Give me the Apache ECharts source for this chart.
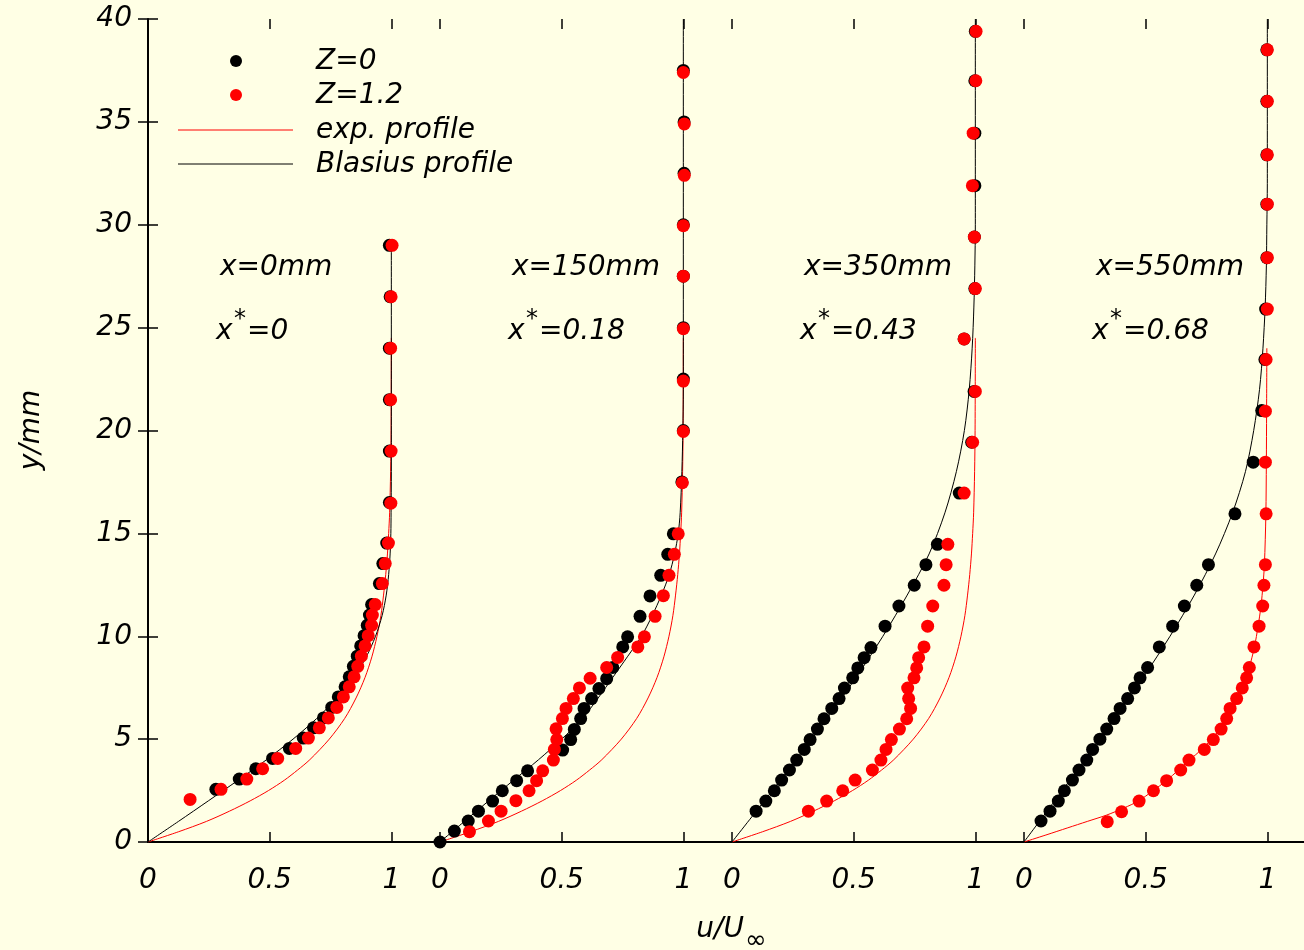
<!DOCTYPE html>
<html>
<head>
<meta charset="utf-8">
<script src="https://cdn.jsdelivr.net/npm/echarts@6/dist/echarts.min.js"></script>
<style>
  html, body { margin: 0; padding: 0; background: #ffffe5; }
  #chart { width: 1304px; height: 950px; }
</style>
</head>
<body>
<div id="chart"></div>
<script>
// ---- measurement stations -------------------------------------------------
const stations = ['x=0mm', 'x=150mm', 'x=350mm', 'x=550mm'];
const xStar = ['0', '0.18', '0.43', '0.68'];
const xTickValues = [0, 0.5, 1];

// ---- measured velocity profiles: [u/U∞, y (mm)] ---------------------------
// Z = 0
const z0Station1 = [[0.279,2.56],[0.375,3.06],[0.443,3.56],[0.512,4.06],[0.581,4.55],[0.638,5.05],[0.680,5.55],[0.721,6.03],[0.755,6.54],[0.782,7.05],[0.810,7.54],[0.827,8.03],[0.844,8.54],[0.860,9.03],[0.874,9.53],[0.888,10.03],[0.901,10.53],[0.910,11.03],[0.919,11.54],[0.951,12.56],[0.965,13.53],[0.981,14.53],[0.992,16.5],[0.992,19.0],[0.992,21.5],[0.992,24.0],[0.995,26.5],[0.992,29.0]];
const z0Station2 = [[0,0],[0.059,0.53],[0.116,1.02],[0.158,1.50],[0.216,1.99],[0.256,2.49],[0.315,2.98],[0.360,3.46],[0.504,4.47],[0.537,4.98],[0.552,5.47],[0.578,6.00],[0.592,6.49],[0.623,6.97],[0.653,7.46],[0.685,7.94],[0.710,8.48],[0.751,9.48],[0.771,9.97],[0.822,10.97],[0.863,11.96],[0.907,12.96],[0.936,13.98],[0.959,14.98],[0.994,17.5],[1.0,20],[1.0,22.5],[1.0,25],[1.0,27.5],[1.0,30],[1.003,32.5],[1.003,35],[1.0,37.5]];
const z0Station3 = [[0.099,1.50],[0.139,1.99],[0.174,2.49],[0.204,3.01],[0.236,3.50],[0.266,3.98],[0.297,4.50],[0.321,4.98],[0.351,5.49],[0.378,5.99],[0.410,6.49],[0.440,6.97],[0.462,7.48],[0.496,7.98],[0.517,8.46],[0.543,8.96],[0.571,9.45],[0.629,10.49],[0.686,11.47],[0.749,12.48],[0.797,13.48],[0.844,14.47],[0.934,16.96],[0.985,19.43],[0.995,21.9],[0.954,24.45],[0.998,26.9],[0.996,29.4],[0.998,31.9],[0.998,34.45],[0.998,37],[1.0,39.4]];
const z0Station4 = [[0.070,1.02],[0.107,1.50],[0.141,1.99],[0.166,2.49],[0.199,3.01],[0.226,3.50],[0.258,3.98],[0.282,4.50],[0.312,5.00],[0.340,5.49],[0.370,6.00],[0.395,6.49],[0.426,6.97],[0.454,7.49],[0.477,7.98],[0.508,8.48],[0.556,9.48],[0.611,10.49],[0.659,11.47],[0.710,12.48],[0.758,13.48],[0.867,15.95],[0.942,18.46],[0.977,20.97],[0.990,23.45],[0.993,25.9],[0.998,28.4],[0.998,31],[0.998,33.4],[0.998,36],[0.998,38.5]];
// Z = 1.2
const z12Station1 = [[0.173,2.07],[0.300,2.56],[0.406,3.06],[0.471,3.56],[0.533,4.06],[0.607,4.55],[0.659,5.05],[0.704,5.55],[0.741,6.03],[0.776,6.54],[0.803,7.05],[0.827,7.54],[0.847,8.03],[0.862,8.54],[0.877,9.03],[0.892,9.53],[0.905,10.03],[0.919,10.53],[0.922,11.03],[0.934,11.54],[0.963,12.56],[0.975,13.53],[0.988,14.53],[0.998,16.47],[0.999,19.0],[0.997,21.5],[0.997,24.0],[0.999,26.5],[1.003,29.0]];
const z12Station2 = [[0.121,0.50],[0.199,1.02],[0.251,1.50],[0.312,2.01],[0.366,2.49],[0.397,2.98],[0.422,3.46],[0.466,3.98],[0.470,4.50],[0.480,4.98],[0.477,5.50],[0.503,6.00],[0.518,6.49],[0.548,6.97],[0.573,7.49],[0.617,7.96],[0.685,8.48],[0.730,8.97],[0.813,9.48],[0.840,9.97],[0.884,10.97],[0.918,11.97],[0.941,12.96],[0.963,13.98],[0.979,14.98],[0.996,17.46],[1.0,19.95],[1.0,22.4],[1.0,24.95],[1.0,27.5],[1.0,29.95],[1.004,32.4],[1.004,34.9],[1.0,37.4]];
const z12Station3 = [[0.314,1.50],[0.389,1.99],[0.455,2.49],[0.506,3.01],[0.577,3.50],[0.612,3.98],[0.633,4.50],[0.655,4.98],[0.688,5.49],[0.718,5.99],[0.734,6.49],[0.726,6.97],[0.722,7.48],[0.748,7.98],[0.759,8.46],[0.767,8.96],[0.789,9.48],[0.804,10.49],[0.825,11.47],[0.871,12.48],[0.880,13.48],[0.887,14.47],[0.954,16.96],[0.989,19.43],[1.0,21.9],[0.954,24.45],[1.0,26.9],[0.996,29.4],[0.988,31.9],[0.991,34.45],[1.002,37],[1.003,39.4]];
const z12Station4 = [[0.342,0.99],[0.401,1.47],[0.473,1.99],[0.532,2.49],[0.586,2.98],[0.644,3.50],[0.678,3.98],[0.741,4.50],[0.778,4.98],[0.810,5.49],[0.833,6.00],[0.847,6.49],[0.874,6.97],[0.897,7.49],[0.915,7.98],[0.926,8.48],[0.945,9.48],[0.966,10.49],[0.981,11.47],[0.986,12.48],[0.992,13.48],[0.995,15.95],[0.992,18.46],[0.992,20.94],[0.995,23.45],[1.0,25.9],[1.0,28.4],[1.0,31],[1.0,33.4],[1.0,36],[1.0,38.5]];

// ---- reference profiles: [u/U∞, y (mm)] -----------------------------------
const expProfile = [[0,0],[0.126,0.5],[0.24,1.0],[0.335,1.5],[0.42,2.0],[0.495,2.5],[0.56,3.0],[0.615,3.5],[0.665,4.0],[0.745,5.0],[0.808,6.0],[0.855,7.0],[0.892,8.0],[0.92,9.0],[0.941,10.0],[0.957,11.0],[0.968,12.0],[0.977,13.0],[0.984,14.0],[0.989,15.0],[0.993,16.0],[0.997,18.0],[0.999,20.0],[1.0,24.5]];
const expProfileStation4 = [[0,0],[0.09,0.34],[0.18,0.69],[0.26,1.0],[0.34,1.31],[0.41,1.65],[0.47,1.99],[0.53,2.49],[0.585,2.98],[0.635,3.5],[0.68,3.98],[0.73,4.5],[0.77,4.98],[0.805,5.49],[0.835,6.0],[0.86,6.49],[0.88,6.97],[0.898,7.49],[0.913,7.98],[0.926,8.48],[0.947,9.48],[0.962,10.49],[0.974,11.47],[0.982,12.48],[0.988,13.48],[0.994,15.95],[0.996,18.46],[0.997,20.94],[0.998,24.0]];
const blasius1 = [[0,0],[0.125,1],[0.248,2],[0.37,3],[0.487,4],[0.596,5],[0.693,6],[0.777,7],[0.846,8],[0.897,9],[0.935,10],[0.962,11],[0.979,12],[0.989,13],[0.995,14],[0.998,15],[0.999,16],[1.0,18],[1.0,29]];
const blasius2 = [[0,0],[0.1,1],[0.2,2],[0.302,3],[0.405,4],[0.5,5],[0.585,6],[0.65,7],[0.71,8],[0.77,9],[0.828,10],[0.872,11],[0.91,12],[0.942,13],[0.964,14],[0.979,15],[0.987,16],[0.994,18],[0.998,20],[1.0,22],[1.0,40]];
const blasius3 = [[0,0],[0.133,2],[0.264,4],[0.39,6],[0.51,8],[0.62,10],[0.72,12],[0.81,14],[0.875,16],[0.922,18],[0.955,20],[0.975,22],[0.987,24],[0.994,26],[0.998,28],[1.0,30],[1.0,40]];
const blasius4 = [[0,0],[0.126,2],[0.25,4],[0.372,6],[0.49,8],[0.60,10],[0.70,12],[0.787,14],[0.857,16],[0.91,18],[0.944,20],[0.968,22],[0.982,24],[0.991,26],[0.996,28],[0.998,30],[1.0,32],[1.0,40]];

const z0Sets = [z0Station1, z0Station2, z0Station3, z0Station4];
const z12Sets = [z12Station1, z12Station2, z12Station3, z12Station4];
const expSets = [expProfile, expProfile, expProfile, expProfileStation4];
const blasiusSets = [blasius1, blasius2, blasius3, blasius4];

// ---- layout -----------------------------------------------------------------
const FONT = 'DejaVu Sans';
const CANVAS_W = 1304;
const PLOT = { left: 148, top: 19, height: 823 };
const PANEL_W = 292;            // one panel spans u/U∞ = 0 … 1.2
const PANEL_SPAN = 1.2;
const TXT = { fontFamily: FONT, fontStyle: 'italic', color: '#000' };

const grids = [{ left: PLOT.left, top: PLOT.top, width: CANVAS_W - PLOT.left, height: PLOT.height }];
const xAxes = [
  { gridIndex: 0, type: 'value', min: 0, max: 1, position: 'bottom',
    axisLine: { show: true, lineStyle: { color: '#000', width: 2 } },
    axisTick: { show: false }, axisLabel: { show: false }, splitLine: { show: false } },
  { gridIndex: 0, type: 'value', min: 0, max: 1, position: 'top',
    axisLine: { show: true, lineStyle: { color: '#000', width: 2 } },
    axisTick: { show: false }, axisLabel: { show: false }, splitLine: { show: false } }
];
const yAxes = [
  { gridIndex: 0, type: 'value', min: 0, max: 40, interval: 5, position: 'left',
    axisLine: { show: true, lineStyle: { color: '#000', width: 2 } },
    axisTick: { show: true, inside: true, length: 10, lineStyle: { color: '#000', width: 1.5 } },
    axisLabel: { show: true, margin: 16, fontSize: 28, ...TXT },
    splitLine: { show: false } },
  // right frame edge lies just past the canvas; only its ticks show
  { gridIndex: 0, type: 'value', min: 0, max: 40, interval: 5, position: 'right', offset: 4,
    axisLine: { show: false },
    axisTick: { show: true, inside: true, length: 10, lineStyle: { color: '#000', width: 1.5 } },
    axisLabel: { show: false }, splitLine: { show: false } }
];
const series = [];

for (let k = 0; k < 4; k++) {
  const g = k + 1;
  const left = PLOT.left + PANEL_W * k;
  const width = Math.min(PANEL_W, CANVAS_W - left);
  grids.push({ left: left, top: PLOT.top, width: width, height: PLOT.height });
  const xMax = PANEL_SPAN * width / PANEL_W;
  const tick = { show: true, inside: true, length: 10, customValues: xTickValues,
                 lineStyle: { color: '#000', width: 1.5 } };
  xAxes.push({ gridIndex: g, type: 'value', min: 0, max: xMax, position: 'bottom',
    axisLine: { show: false }, splitLine: { show: false }, axisTick: tick,
    axisLabel: { show: true, customValues: xTickValues, margin: 25, fontSize: 28, ...TXT } });
  xAxes.push({ gridIndex: g, type: 'value', min: 0, max: xMax, position: 'top',
    axisLine: { show: false }, splitLine: { show: false }, axisTick: tick,
    axisLabel: { show: false } });
  yAxes.push({ gridIndex: g, type: 'value', min: 0, max: 40, show: false });

  const xi = 2 + 2 * k, yi = 2 + k;
  series.push({ name: 'exp. profile', type: 'line', xAxisIndex: xi, yAxisIndex: yi,
    data: expSets[k], showSymbol: false, smooth: 0.3, z: 2,
    lineStyle: { color: '#ff0000', width: 1 } });
  series.push({ name: 'Blasius profile', type: 'line', xAxisIndex: xi, yAxisIndex: yi,
    data: blasiusSets[k], showSymbol: false, smooth: 0.3, z: 2,
    lineStyle: { color: '#000', width: 1 } });
  series.push({ name: 'Z=0', type: 'scatter', xAxisIndex: xi, yAxisIndex: yi,
    data: z0Sets[k], symbol: 'circle', symbolSize: 13, z: 3,
    itemStyle: { color: '#000', opacity: 1 } });
  series.push({ name: 'Z=1.2', type: 'scatter', xAxisIndex: xi, yAxisIndex: yi,
    data: z12Sets[k], symbol: 'circle', symbolSize: 13, z: 4,
    itemStyle: { color: '#ff0000', opacity: 1 } });
}

// ---- key, station labels and axis titles -----------------------------------
const graphic = [];
const keyText = (t, y) => ({ type: 'text', x: 316, y: y, z: 10,
  style: { text: t, fontSize: 28, ...TXT, fill: '#000', textVerticalAlign: 'middle' } });
graphic.push({ type: 'circle', shape: { cx: 236, cy: 61, r: 6 }, style: { fill: '#000' }, z: 10 });
graphic.push({ type: 'circle', shape: { cx: 236, cy: 95, r: 6 }, style: { fill: '#ff0000' }, z: 10 });
graphic.push({ type: 'line', shape: { x1: 178, y1: 130, x2: 293, y2: 130 }, style: { stroke: '#ff0000', lineWidth: 1 }, z: 10 });
graphic.push({ type: 'line', shape: { x1: 178, y1: 164, x2: 293, y2: 164 }, style: { stroke: '#000', lineWidth: 1 }, z: 10 });
graphic.push(keyText('Z=0', 62));
graphic.push(keyText('Z=1.2', 96));
graphic.push(keyText('exp. profile', 131));
graphic.push(keyText('Blasius profile', 165));

for (let k = 0; k < 4; k++) {
  const base = PLOT.left + PANEL_W * k;
  graphic.push({ type: 'text', x: base + 72, y: 268, z: 10,
    style: { text: stations[k], fontSize: 28, ...TXT, fill: '#000', textVerticalAlign: 'middle' } });
  graphic.push({ type: 'text', x: base + 68, y: 332, z: 10,
    style: { text: 'x', fontSize: 28, ...TXT, fill: '#000', textVerticalAlign: 'middle' } });
  graphic.push({ type: 'text', x: base + 86, y: 320, z: 10,
    style: { text: '*', fontSize: 24, ...TXT, fill: '#000', textVerticalAlign: 'middle' } });
  graphic.push({ type: 'text', x: base + 99, y: 332, z: 10,
    style: { text: '=' + xStar[k], fontSize: 28, ...TXT, fill: '#000', textVerticalAlign: 'middle' } });
}

graphic.push({ type: 'text', x: 32, y: 430, rotation: Math.PI / 2, z: 10,
  style: { text: 'y/mm', fontSize: 28, ...TXT, fill: '#000', textAlign: 'center', textVerticalAlign: 'middle' } });
graphic.push({ type: 'text', x: 744, y: 930, z: 10,
  style: { text: 'u/U', fontSize: 28, ...TXT, fill: '#000', textAlign: 'right', textVerticalAlign: 'middle' } });
graphic.push({ type: 'text', x: 745, y: 941, z: 10,
  style: { text: '∞', fontSize: 26, ...TXT, fill: '#000', textAlign: 'left', textVerticalAlign: 'middle' } });

const chart = echarts.init(document.getElementById('chart'), null, { renderer: 'canvas' });
chart.setOption({
  backgroundColor: '#ffffe5',
  animation: false,
  grid: grids,
  xAxis: xAxes,
  yAxis: yAxes,
  series: series,
  graphic: graphic
});
</script>
</body>
</html>
